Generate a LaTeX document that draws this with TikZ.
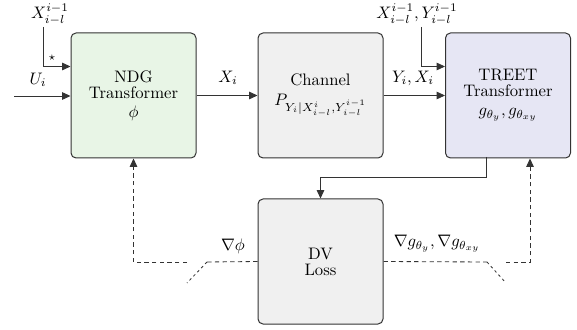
\documentclass[tikz,border=0pt]{standalone}
\usetikzlibrary{arrows.meta,calc}
\definecolor{ndgfill}{HTML}{E8F5E6}
\definecolor{greyfill}{HTML}{F0F0F0}
\definecolor{treetfill}{HTML}{E6E6F4}
\definecolor{edge}{HTML}{333333}
\definecolor{linec}{HTML}{333333}
\tikzset{
  blockbox/.style={draw=edge, line width=0.6pt, rounded corners=3pt, minimum width=75pt, minimum height=75pt, align=center, inner sep=0pt},
  arr/.style={draw=linec, line width=0.5pt, -{Triangle[length=5pt,width=4.5pt]}},
  dashline/.style={draw=linec, line width=0.5pt, dash pattern=on 2.6pt off 2pt},
  dashdiag/.style={draw=linec, line width=0.5pt, dash pattern=on 1.6pt off 1.8pt},
  dasharr/.style={dashline, -{Triangle[length=5pt,width=4.5pt]}},
  lbl/.style={inner sep=0pt}
}
\begin{document}
\begin{tikzpicture}[x=0.6pt,y=-0.6pt]
\useasboundingbox (0,0) rectangle (577,330);
% blocks
\node[blockbox, fill=ndgfill] (ndg) at (133.5,95.5) {NDG\\[-2.5pt]Transformer\\[-0.5pt]$\phi$};
\node[blockbox, fill=greyfill] (ch) at (320.5,95.5) {Channel\\[0pt]$P_{Y_i|X^{i}_{i-l},Y^{i-1}_{i-l}}$};
\node[blockbox, fill=treetfill] (treet) at (508,95.5) {TREET\\[-2.5pt]Transformer\\[-0.5pt]$g_{\theta_y}, g_{\theta_{xy}}$};
\node[blockbox, fill=greyfill] (dv) at (320.5,261.5) {DV\\[-2.5pt]Loss};
% coordinates
\coordinate (uin) at (14,96);
\coordinate (xtop) at (43,27);
\path (ndg.west) ++(0,-29) coordinate (ndgin2);
\coordinate (ttop) at (421,27);
\path (treet.west) ++(0,-29) coordinate (treetin2);
\coordinate (tout) at (486,157);
\coordinate (swL) at (207,262);
\coordinate (swLend) at (187,283);
\coordinate (swLstart) at (187,262);
\coordinate (swR) at (487,262);
\coordinate (swRend) at (506,283);
\coordinate (swRstart) at (506,262);
\path (treet.south) ++(22,0) coordinate (tin);
% labels
\node[lbl] (xlab) at (50,14) {$X^{i-1}_{i-l}$};
\node[lbl] (star) at (52,58) {$\scriptstyle\star$};
\node[lbl] (ulab) at (38,80) {$U_i$};
\node[lbl] (xilab) at (228,78) {$X_i$};
\node[lbl] (yxlab) at (413,78) {$Y_i, X_i$};
\node[lbl] (txlab) at (417,14) {$X^{i-1}_{i-l}, Y^{i-1}_{i-l}$};
\node[lbl] (gphi) at (233,246) {$\nabla\phi$};
\node[lbl] (gg) at (437,244) {$\nabla g_{\theta_y}, \nabla g_{\theta_{xy}}$};
% connectors
\draw[arr] (uin) -- (uin -| ndg.west);
\draw[arr] (xtop) |- (ndgin2);
\draw[arr] (ndg.east) -- (ndg.east -| ch.west);
\draw[arr] (ch.east) -- (ch.east -| treet.west);
\draw[arr] (ttop) |- (treetin2);
\draw[arr] (tout) -- ++(0,20) -| (dv.north);
% dashed feedback
\draw[dashline] (dv.west) -- (swL);
\draw[dashdiag] (swL) -- (swLend);
\draw[dasharr] (swLstart) -| (ndg.south);
\draw[dashline] (dv.east) -- (swR);
\draw[dashdiag] (swR) -- (swRend);
\draw[dasharr] (swRstart) -| (tin);
\end{tikzpicture}
\end{document}
